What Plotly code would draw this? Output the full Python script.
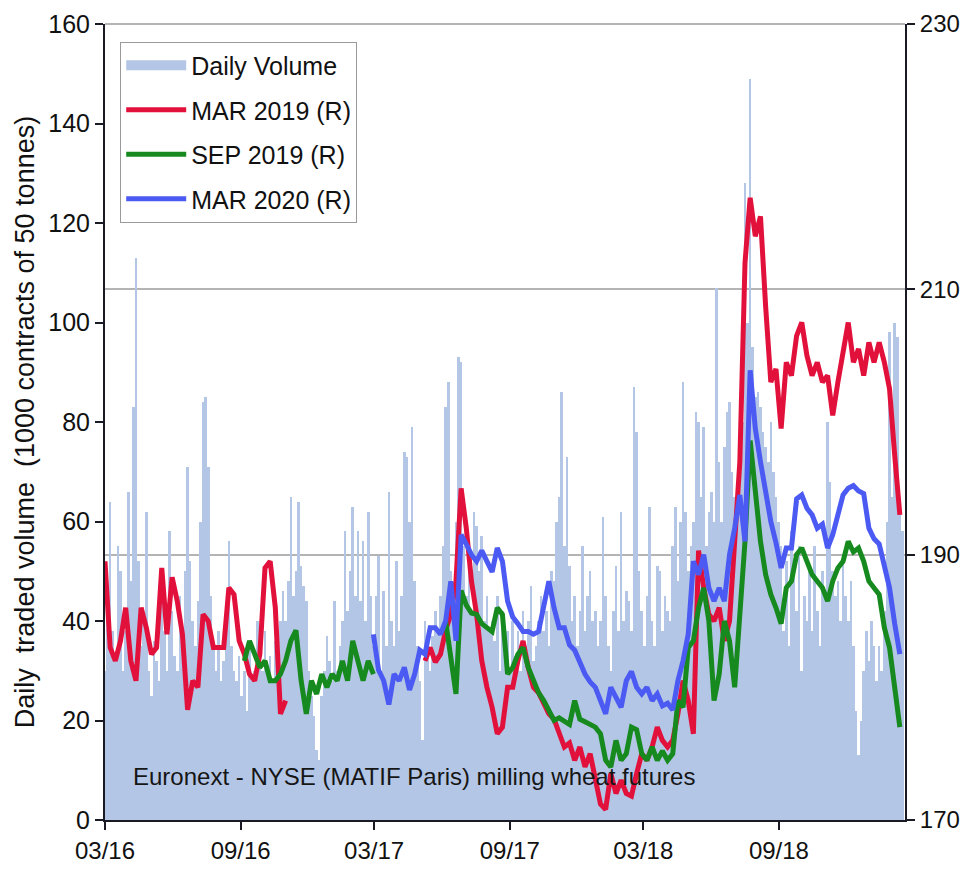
import pandas as pd
import plotly.graph_objects as go

# ─── Theme ────────────────────────────────────────────────────────────────────
NARROW = "Liberation Sans Narrow, Arial Narrow, Liberation Sans, Arial, sans-serif"
ARIAL = "Liberation Sans, Arial, sans-serif"
VOL_COLOR = "#b4c6e6"
RED = "#e2113c"
GREEN = "#168a1e"
BLUE = "#4b5af2"
AXIS = "#1a1a24"
GRID = "#b4b4b4"

# ─── Data ─────────────────────────────────────────────────────────────────────
START = "2016-03-01"
X_END = "2019-02-19"

# daily volume, sampled twice a week (1000 contracts)
VOLUME = [
    30, 45, 64, 38, 32, 55, 50, 30, 38, 66,
    48, 83, 113, 52, 35, 40, 62, 30, 25, 36,
    32, 28, 50, 38, 30, 58, 42, 33, 30, 45,
    38, 50, 71, 52, 40, 35, 44, 60, 84, 85,
    71, 45, 35, 30, 38, 28, 32, 40, 56, 35,
    30, 28, 33, 25, 30, 22, 35, 28, 30, 40,
    35, 30, 38, 30, 33, 28, 36, 32, 40, 46,
    40, 48, 65, 45, 50, 64, 51, 47, 44, 30,
    25, 21, 14, 12, 25, 30, 37, 32, 28, 44,
    30, 35, 40, 58, 42, 50, 63, 45, 58, 44,
    56, 40, 62, 45, 35, 45, 53, 30, 46, 35,
    66, 40, 35, 52, 38, 45, 74, 73, 60, 79,
    48, 35, 28, 16, 40, 35, 30, 37, 42, 38,
    45, 55, 83, 88, 50, 40, 60, 93, 92, 55,
    45, 50, 42, 62, 59, 50, 57, 40, 45, 38,
    40, 36, 45, 30, 42, 35, 38, 30, 40, 33,
    38, 30, 42, 35, 40, 47, 32, 35, 40, 45,
    38, 42, 35, 50, 48, 60, 65, 86, 55, 73,
    51, 40, 45, 35, 42, 55, 38, 45, 50, 40,
    42, 35, 40, 61, 45, 35, 30, 42, 51, 38,
    62, 40, 46, 44, 38, 87, 78, 50, 42, 35,
    45, 63, 40, 35, 51, 50, 38, 45, 42, 40,
    55, 63, 48, 60, 88, 62, 50, 55, 60, 82,
    80, 65, 79, 55, 62, 66, 60, 107, 72, 60,
    75, 82, 84, 70, 65, 68, 72, 80, 128, 100,
    149, 95, 85, 86, 83, 78, 75, 72, 80, 70,
    65, 60, 55, 38, 52, 35, 58, 50, 42, 55,
    30, 45, 40, 50, 38, 55, 42, 35, 50, 45,
    80, 68, 50, 45, 48, 40, 52, 45, 40, 48,
    35, 22, 13, 20, 30, 38, 32, 40, 35, 28,
    35, 30, 42, 60, 98, 65, 100, 97, 62, 58,
]

# weekly prices (EUR/t, right axis); each series is drawn in segments
MAR19_A_START = "2016-03-01"
MAR19_A = [189.5, 183, 182, 183.5, 186, 182, 180.5, 186, 184.5, 182.5,
           183, 189, 184, 188.3, 186.5, 184, 178.3, 180.5, 180, 185.5,
           185, 183, 183, 183, 187.5, 187, 183.5, 182.5, 181, 180.5,
           182.5, 189, 189.5, 186, 178, 179]
MAR19_B_START = "2017-05-09"
MAR19_B = [182, 183, 181.9, 182.5, 184.3, 185.5, 188, 195, 192, 188,
           185.5, 182, 180, 178.5, 176.5, 177, 180, 180, 182, 183.5,
           181.5, 180, 179.6, 178.8, 178, 177.6, 176.5, 175.5, 175.8, 174.5,
           175.5, 174, 175, 173, 171.2, 170.8, 173.5, 172, 173, 172,
           171.8, 173.5, 175, 174.5, 175.5, 177, 176, 175.5, 176, 178,
           180.5, 179, 176.5, 190.3, 187.5, 185.5, 185, 186, 183.5, 185,
           191.5, 197, 212, 216.9, 214, 215.5, 208.7, 203, 204, 199.5,
           204.5, 203.5, 206.5, 207.5, 205, 203.5, 204.5, 203, 203.5, 200.5,
           203, 205.5, 207.5, 204.5, 205.5, 203.5, 206, 204.5, 206, 204.5,
           202.5, 197.5, 193]

SEP19_A_START = "2016-09-06"
SEP19_A = [182, 183.5, 182.5, 181.5, 182, 180.5, 180.5, 181, 182, 183.5,
           184.3, 180.5, 178, 180.5, 179.5, 181, 180, 181, 180.5, 182,
           180.5, 183.5, 182, 180.5, 182, 181]
SEP19_B_START = "2017-06-06"
SEP19_B = [185, 182, 179.5, 187.3, 186.2, 185.6, 185.5, 184.8, 184.5, 184.2,
           186, 185.5, 181, 181.5, 182.5, 183, 181.5, 180.5, 179.6, 179,
           178.3, 177.5, 177.7, 177.5, 177.2, 179, 177.6, 177.4, 177.2, 177,
           176.5, 174.5, 174, 176, 174.5, 175, 177, 176.8, 175, 174.5,
           175.5, 174.5, 175.2, 174.5, 175, 179, 178.5, 183, 183.5, 186,
           187.5, 185, 179, 181, 185, 183.5, 180, 186, 191, 198.6,
           195, 191, 188.5, 187, 186, 184.8, 187.5, 188, 190, 190.5,
           189.5, 188.5, 188, 187.5, 186.5, 188, 189, 189.5, 191, 190.2,
           190.5, 189.5, 188, 187.5, 187, 184.5, 183, 180, 177]

MAR20_START = "2017-02-28"
MAR20 = [184, 181.3, 180.5, 178.7, 181, 180.5, 181.5, 179.8, 181, 182.8,
         182.5, 184.5, 184.5, 184, 185, 188, 183.5, 191.5, 190.8, 190,
         189.5, 190.3, 189.5, 188.7, 190.5, 189.5, 186.5, 185.3, 184.8, 184.2,
         184.2, 184, 184.2, 186, 188, 186, 184.5, 184.5, 183.2, 182.8,
         181.8, 181, 180.4, 180, 179, 178, 180, 179.2, 178.5, 180.5,
         181.2, 180, 179.5, 180, 179, 179.5, 178.6, 178.8, 178.3, 180.5,
         182, 184, 189.5, 188.5, 190, 187.5, 186.5, 187.5, 186.5, 190,
         192, 194.5, 191, 203.9, 199.5, 197, 194.5, 192.5, 190.9, 189,
         190.5, 190.5, 194.2, 194.5, 193.5, 193, 192, 192.3, 190.5, 191.5,
         193, 194.5, 195, 195.2, 194.8, 194.6, 192, 191.2, 190.8, 189,
         187.5, 184.8, 182.5]

TICK_DATES = ["2016-03-01", "2016-09-01", "2017-03-01",
              "2017-09-01", "2018-03-01", "2018-09-01"]
TICK_TEXT = ["03/16", "09/16", "03/17", "09/17", "03/18", "09/18"]


def weekly(start, values):
    return list(pd.date_range(start, periods=len(values), freq="7D"))


def segments(*parts):
    """Join (start, values) segments into one trace with gaps between them."""
    xs, ys = [], []
    for k, (start, vals) in enumerate(parts):
        if k:
            xs.append(xs[-1] + pd.Timedelta(days=3))
            ys.append(None)
        xs += weekly(start, vals)
        ys += vals
    return xs, ys


vol_dates = pd.date_range(START, periods=len(VOLUME), freq="84h")

fig = go.Figure()

fig.add_trace(go.Bar(
    x=vol_dates, y=VOLUME,
    name="Daily Volume", showlegend=False,
    marker=dict(color=VOL_COLOR, line=dict(width=0)),
))
# legend swatch for the volume bars (wide filled block like the original)
fig.add_trace(go.Scatter(
    x=[None], y=[None], name="Daily Volume", mode="lines",
    line=dict(color=VOL_COLOR, width=16), legendgroup="v",
))

for name, color, parts, grp in [
    ("MAR 2019 (R)", RED, [(MAR19_A_START, MAR19_A), (MAR19_B_START, MAR19_B)], "a"),
    ("SEP 2019 (R)", GREEN, [(SEP19_A_START, SEP19_A), (SEP19_B_START, SEP19_B)], "b"),
    ("MAR 2020 (R)", BLUE, [(MAR20_START, MAR20)], "c"),
]:
    xs, ys = segments(*parts)
    fig.add_trace(go.Scatter(
        x=xs, y=ys, name=name, yaxis="y2",
        mode="lines", line=dict(color=color, width=5),
        connectgaps=False, legendgroup=grp,
    ))

fig.add_annotation(
    text="Euronext - NYSE (MATIF Paris) milling wheat futures",
    xref="paper", yref="paper", x=0.033, y=0.055,
    xanchor="left", yanchor="middle", showarrow=False,
    font=dict(family=NARROW, size=24, color="#161616"),
)

# grey line along the top of the plot (the 230 gridline)
fig.add_shape(type="line", xref="paper", yref="paper", x0=0, x1=1, y0=1, y1=1,
              line=dict(color=GRID, width=2), layer="below")

# the page body has an 8 px margin, so the figure is 8 px smaller each way
fig.update_layout(
    width=961, height=862,
    margin=dict(l=97, r=64, t=16, b=50),
    paper_bgcolor="white", plot_bgcolor="white",
    bargap=0,
    showlegend=True,
    legend=dict(
        x=0.019, y=0.978, xanchor="left", yanchor="top",
        bgcolor="white", bordercolor="#9a9a9a", borderwidth=1,
        font=dict(family=NARROW, size=25, color="#111"),
        traceorder="grouped", tracegroupgap=9, itemwidth=60,
    ),
    xaxis=dict(
        type="date", range=[START, X_END], automargin=False,
        tickvals=TICK_DATES, ticktext=TICK_TEXT,
        ticks="outside", ticklen=8, tickwidth=2, tickcolor=AXIS,
        showline=True, linecolor=AXIS, linewidth=2,
        showgrid=False, zeroline=False,
        tickfont=dict(family=NARROW, size=24, color="#111"),
    ),
    yaxis=dict(
        range=[0, 160], dtick=20, automargin=False, ticklabeloverflow="allow",
        ticks="outside", ticklen=8, tickwidth=2, tickcolor=AXIS,
        showline=True, linecolor=AXIS, linewidth=2,
        showgrid=False, zeroline=False,
        tickfont=dict(family=NARROW, size=25, color="#111"),
        title=dict(text="Daily  traded volume  (1000 contracts of 50 tonnes)",
                   font=dict(family=ARIAL, size=27, color="#111"), standoff=6),
    ),
    yaxis2=dict(
        range=[170, 230], tick0=170, dtick=20, overlaying="y", side="right",
        automargin=False, ticklabeloverflow="allow",
        ticks="outside", ticklen=8, tickwidth=2, tickcolor=AXIS,
        showline=True, linecolor=AXIS, linewidth=2,
        showgrid=True, gridcolor=GRID, gridwidth=2, zeroline=False,
        tickfont=dict(family=NARROW, size=24, color="#111"),
    ),
)

fig.write_html("out.html")
